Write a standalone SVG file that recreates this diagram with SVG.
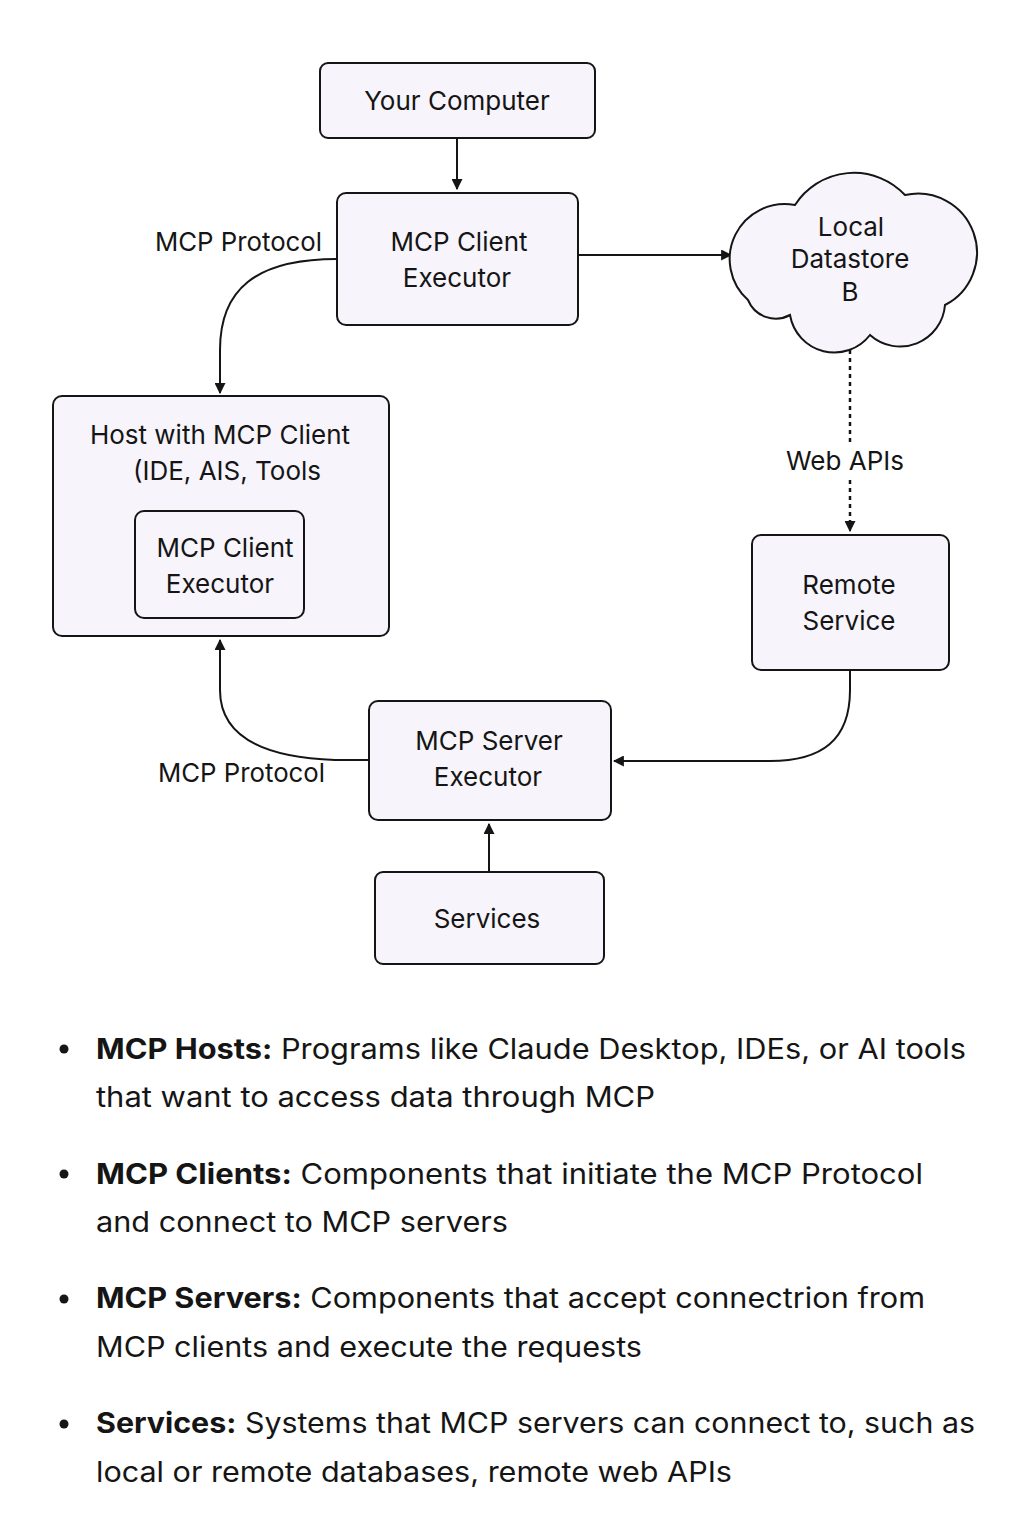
<svg xmlns="http://www.w3.org/2000/svg" width="1024" height="1536" viewBox="0 0 1024 1536">
<style>
.box{fill:#f7f4fc;stroke:#151515;stroke-width:2}
.t{font-family:Inter,"Noto Sans","Liberation Sans",sans-serif;font-size:26px;fill:#151515;text-anchor:middle}
.lbl{font-family:Inter,"Noto Sans","Liberation Sans",sans-serif;font-size:26px;fill:#151515}
.c{fill:none;stroke:#151515;stroke-width:2}
.d{fill:none;stroke:#151515;stroke-width:2.5;stroke-dasharray:4 4}
.b{font-family:Inter,"Noto Sans","Liberation Sans",sans-serif;font-size:28px;fill:#151515}
.bb{font-weight:bold}
</style>
<defs>
<marker id="ah" viewBox="0 0 10 10" refX="9" refY="5" markerWidth="11" markerHeight="11" markerUnits="userSpaceOnUse" orient="auto">
<path d="M0,0 L10,5 L0,10 Z" fill="#151515"/>
</marker>
</defs>
<rect width="1024" height="1536" fill="#ffffff"/>

<g id="connectors">
<path class="c" d="M457,139 L457,189" marker-end="url(#ah)"/>
<path class="c" d="M579,255 L731,255" marker-end="url(#ah)"/>
<path class="c" d="M337,259 C255,259 220,290 220,350 L220,393" marker-end="url(#ah)"/>
<path class="d" d="M850,350 L850,444"/>
<path class="d" d="M850,480 L850,522"/>
<path class="c" d="M850,524 L850,531" marker-end="url(#ah)"/>
<path class="c" d="M850,671 L850,690 C850,740 822,761 770,761 L614,761" marker-end="url(#ah)"/>
<path class="c" d="M369,760 L335,760 C252,757 220,730 220,690 L220,640" marker-end="url(#ah)"/>
<path class="c" d="M489,871 L489,824" marker-end="url(#ah)"/>
<text class="lbl" x="155" y="251" textLength="167" lengthAdjust="spacingAndGlyphs">MCP Protocol</text>
<text class="lbl" x="158" y="782" textLength="167" lengthAdjust="spacingAndGlyphs">MCP Protocol</text>
<text class="t" x="845" y="470">Web APIs</text>
</g>

<g id="your-computer">
<rect class="box" x="320" y="63" width="275" height="75" rx="8"/>
<text class="t" x="457" y="110">Your Computer</text>
</g>

<g id="mcp-client-executor">
<rect class="box" x="337" y="193" width="241" height="132" rx="9"/>
<text class="t" x="459" y="251">MCP Client</text>
<text class="t" x="457" y="287">Executor</text>
</g>

<g id="local-datastore">
<path class="box" d="M748,300 A55,55 0 0 1 795,205 A70,70 0 0 1 905,195 A59,59 0 0 1 945,305 A45,45 0 0 1 870,335 A45,45 0 0 1 790,315 A30,30 0 0 1 748,300 Z"/>
<text class="t" x="851" y="236">Local</text>
<text class="t" x="850" y="268">Datastore</text>
<text class="t" x="850" y="301">B</text>
</g>

<g id="host">
<rect class="box" x="53" y="396" width="336" height="240" rx="9"/>
<text class="t" x="220" y="444">Host with MCP Client</text>
<text class="t" x="227" y="480">(IDE, AIS, Tools</text>
<g id="host-inner-executor">
<rect class="box" x="135" y="511" width="169" height="107" rx="9"/>
<text class="t" x="225" y="557">MCP Client</text>
<text class="t" x="220" y="593">Executor</text>
</g>
</g>

<g id="remote-service">
<rect class="box" x="752" y="535" width="197" height="135" rx="9"/>
<text class="t" x="849" y="594">Remote</text>
<text class="t" x="849" y="630">Service</text>
</g>

<g id="mcp-server-executor">
<rect class="box" x="369" y="701" width="242" height="119" rx="9"/>
<text class="t" x="489" y="750">MCP Server</text>
<text class="t" x="488" y="786">Executor</text>
</g>

<g id="services">
<rect class="box" x="375" y="872" width="229" height="92" rx="8"/>
<text class="t" x="487" y="928">Services</text>
</g>

<g id="legend">
<circle cx="64" cy="1049" r="4.5" fill="#151515"/>
<text class="b" x="96" y="1059" textLength="870" lengthAdjust="spacingAndGlyphs"><tspan class="bb">MCP Hosts:</tspan> Programs like Claude Desktop, IDEs, or AI tools</text>
<text class="b" x="96" y="1107" textLength="559" lengthAdjust="spacingAndGlyphs">that want to access data through MCP</text>
<circle cx="64" cy="1174" r="4.5" fill="#151515"/>
<text class="b" x="96" y="1184" textLength="827" lengthAdjust="spacingAndGlyphs"><tspan class="bb">MCP Clients:</tspan> Components that initiate the MCP Protocol</text>
<text class="b" x="96" y="1232" textLength="412" lengthAdjust="spacingAndGlyphs">and connect to MCP servers</text>
<circle cx="64" cy="1299" r="4.5" fill="#151515"/>
<text class="b" x="96" y="1308" textLength="829" lengthAdjust="spacingAndGlyphs"><tspan class="bb">MCP Servers:</tspan> Components that accept connectrion from</text>
<text class="b" x="96" y="1357" textLength="546" lengthAdjust="spacingAndGlyphs">MCP clients and execute the requests</text>
<circle cx="64" cy="1424" r="4.5" fill="#151515"/>
<text class="b" x="96" y="1433" textLength="879" lengthAdjust="spacingAndGlyphs"><tspan class="bb">Services:</tspan> Systems that MCP servers can connect to, such as</text>
<text class="b" x="96" y="1482" textLength="636" lengthAdjust="spacingAndGlyphs">local or remote databases, remote web APIs</text>
</g>
</svg>
